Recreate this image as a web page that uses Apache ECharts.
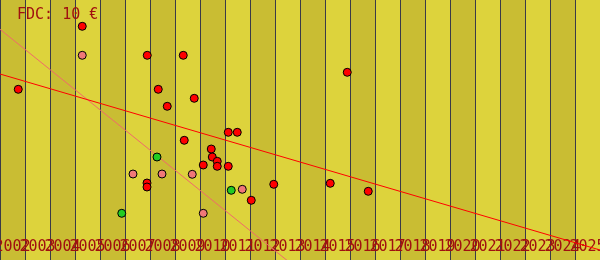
<!DOCTYPE html>
<html><head><meta charset="utf-8">
<script src="https://cdn.jsdelivr.net/npm/echarts@6/dist/echarts.min.js"></script>
<style>html,body{margin:0;padding:0;background:#ddd33c}#c{width:600px;height:260px}</style>
</head><body><div id="c"></div>
<script>
// Year labels (one band per year)
const years = ['2002','2003','2004','2005','2006','2007','2008','2009','2010','2011','2012','2013',
               '2014','2015','2016','2017','2018','2019','2020','2021','2022','2023','2024','2025'];
// Points: [decimal year, value]
const redPoints = [
  [2002.73,17.07],[2005.29,23.37],[2007.89,20.47],[2009.33,20.47],[2008.33,17.07],[2009.77,16.17],
  [2008.69,15.37],[2011.13,12.77],[2011.49,12.77],[2009.37,11.97],[2010.45,11.1],[2010.49,10.3],
  [2010.69,9.87],[2010.13,9.5],[2010.69,9.37],[2011.13,9.37],[2012.95,7.57],[2012.05,5.97],
  [2007.88,7.7],[2007.88,7.3],[2015.89,18.77],[2015.21,7.67],[2016.73,6.87]
];
const pinkPoints = [
  [2005.29,20.47],[2009.69,8.57],[2011.69,7.07],[2010.13,4.67],[2007.32,8.6],[2008.48,8.6]
];
const greenPoints = [
  [2011.25,6.97],[2006.87,4.67],[2008.28,10.3]
];
// Trend lines: [start, end]
const redTrend = [[2002,18.6],[2026,1.0]];
const pinkTrend = [[2002,23.07],[2014,-1.08]];

const textColor = '#a01010';
const chart = echarts.init(document.getElementById('c'));
chart.setOption({
  animation:false,
  backgroundColor:'#ddd33c',
  title:{text:'FDC: 10 €',left:12,top:3,textStyle:{fontFamily:'DejaVu Sans Mono',fontSize:15,fontWeight:'normal',color:textColor}},
  grid:{left:0,right:0,top:0,bottom:0,containLabel:false,outerBoundsMode:'none'},
  xAxis:[
    {type:'category',data:years,boundaryGap:true,
     axisLine:{show:false},axisTick:{show:false},
     axisLabel:{inside:true,interval:0,hideOverlap:false,margin:5,fontFamily:'DejaVu Sans Mono',fontSize:15,color:textColor},
     splitLine:{show:true,interval:0,lineStyle:{color:'#3a3a48',width:1}},
     splitArea:{show:true,interval:0,areaStyle:{color:['#c9bd33','#ddd33c']}},
     z:1},
    {type:'value',min:2002,max:2026,show:false}
  ],
  yAxis:{type:'value',min:0,max:26,show:false,splitLine:{show:false}},
  series:[
    {type:'line',xAxisIndex:1,data:pinkTrend,symbol:'none',lineStyle:{color:'#f06a6a',width:1},z:2},
    {type:'line',xAxisIndex:1,data:redTrend,symbol:'none',lineStyle:{color:'#ff0000',width:1},z:2},
    {type:'scatter',xAxisIndex:1,data:redPoints,symbolSize:8,itemStyle:{color:'#ff0000',borderColor:'#000',borderWidth:1,opacity:1},z:3},
    {type:'scatter',xAxisIndex:1,data:pinkPoints,symbolSize:8,itemStyle:{color:'#f07878',borderColor:'#000',borderWidth:1,opacity:1},z:3},
    {type:'scatter',xAxisIndex:1,data:greenPoints,symbolSize:8,itemStyle:{color:'#22cc22',borderColor:'#000',borderWidth:1,opacity:1},z:3}
  ]
});
</script></body></html>
